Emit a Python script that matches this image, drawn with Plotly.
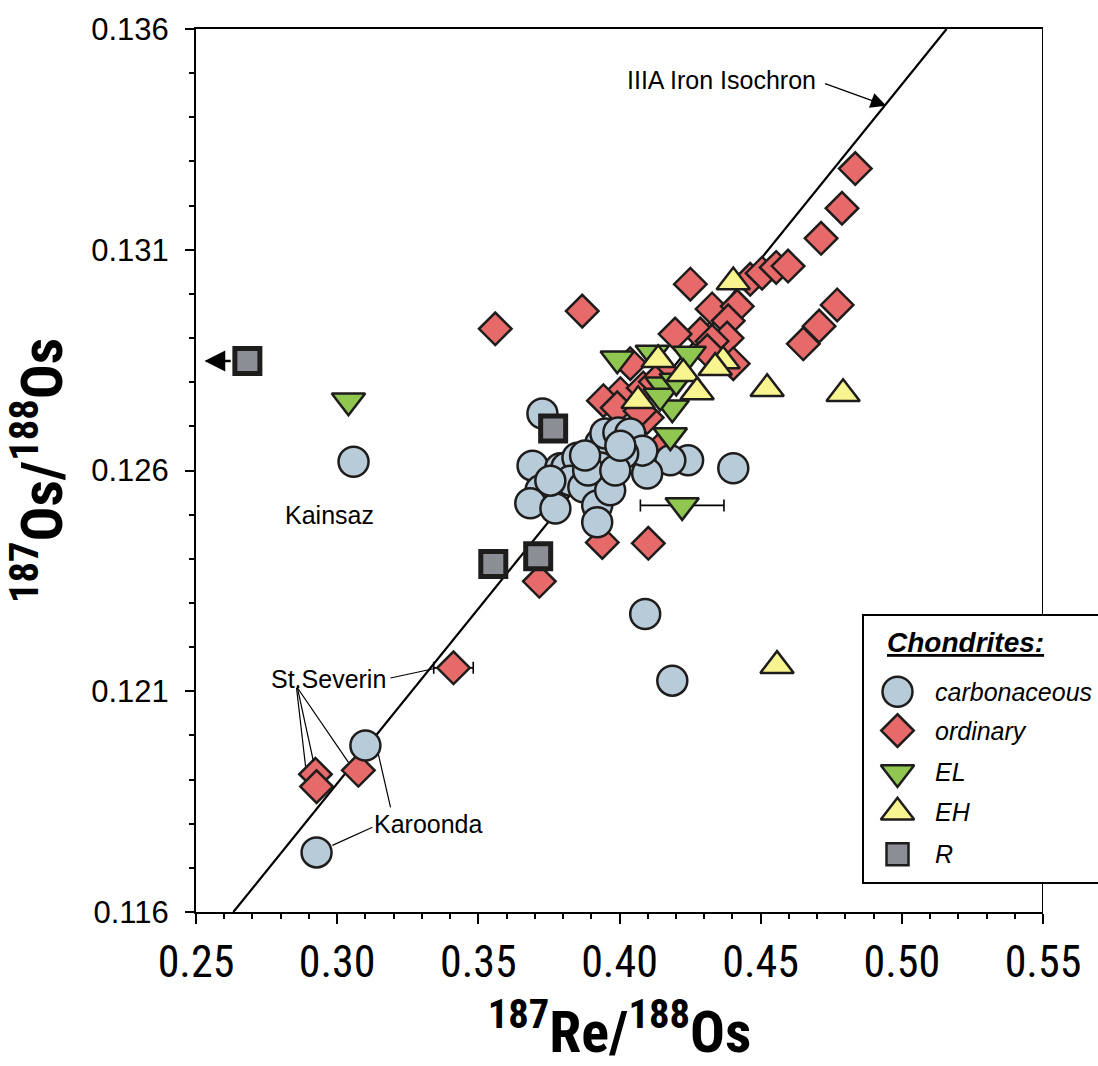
import plotly.graph_objects as go

# ---------------------------------------------------------------- data
X_RANGE = [0.25, 0.55]
Y_RANGE = [0.116, 0.136]
x_ticks = [0.25, 0.30, 0.35, 0.40, 0.45, 0.50, 0.55]
x_ticklabels = ["0.25", "0.30", "0.35", "0.40", "0.45", "0.50", "0.55"]
y_ticks = [0.116, 0.121, 0.126, 0.131, 0.136]
y_ticklabels = ["0.116", "0.121", "0.126", "0.131", "0.136"]

# carbonaceous chondrites (187Re/188Os, 187Os/188Os)
carb_re = [0.3058, 0.3100, 0.2927, 0.4091, 0.4187, 0.4403, 0.4243, 0.4180, 0.4098,
           0.3727, 0.3692, 0.3790, 0.3812, 0.3851, 0.3932, 0.3950, 0.3996, 0.4038,
           0.4081, 0.4013, 0.3932, 0.3826, 0.3872, 0.3720, 0.3684, 0.3773, 0.3921,
           0.3921, 0.3967, 0.3889, 0.3985, 0.3755, 0.4003, 0.3878]
carb_os = [0.12620, 0.11977, 0.11735, 0.12275, 0.12124, 0.12605, 0.12623, 0.12623, 0.12593,
           0.12729, 0.12611, 0.12605, 0.12607, 0.12629, 0.12661, 0.12684, 0.12686, 0.12684,
           0.12645, 0.12638, 0.12607, 0.12577, 0.12562, 0.12555, 0.12526, 0.12514, 0.12521,
           0.12483, 0.12555, 0.12600, 0.12600, 0.12577, 0.12656, 0.12634]

# ordinary chondrites
ord_re = [0.3560, 0.3868, 0.4251, 0.4463, 0.4505, 0.4555, 0.4597, 0.4714, 0.4788, 0.4835,
          0.4771, 0.4707, 0.4651, 0.4328, 0.4417, 0.4385, 0.4286, 0.4197, 0.4381, 0.4328,
          0.4311, 0.4403, 0.4038, 0.4003, 0.4084, 0.3943, 0.3992, 0.4098, 0.4144, 0.4073,
          0.3939, 0.4102, 0.3716, 0.3412, 0.3075, 0.2923, 0.2927, 0.4162, 0.4127]
ord_os = [0.12921, 0.12961, 0.13022, 0.13033, 0.13047, 0.13060, 0.13063, 0.13126, 0.13194, 0.13284,
          0.12975, 0.12927, 0.12887, 0.12966, 0.12972, 0.12939, 0.12909, 0.12909, 0.12900, 0.12893,
          0.12871, 0.12842, 0.12842, 0.12774, 0.12787, 0.12758, 0.12742, 0.12720, 0.12650, 0.12735,
          0.12437, 0.12435, 0.12349, 0.12153, 0.11921, 0.11912, 0.11884, 0.12819, 0.12801]
ord_re_err = [0] * 33 + [0.0070] + [0] * 5

# enstatite chondrites, EL group
el_re = [0.3040, 0.3992, 0.4116, 0.4247, 0.4151, 0.4187, 0.4180, 0.4222, 0.4144, 0.4201]
el_os = [0.12758, 0.12853, 0.12866, 0.12864, 0.12794, 0.12742, 0.12679, 0.12521, 0.12769, 0.12803]
el_re_err = [0, 0, 0, 0, 0, 0, 0, 0.0148, 0, 0]

# enstatite chondrites, EH group
eh_re = [0.4403, 0.4137, 0.4226, 0.4367, 0.4066, 0.4275, 0.4523, 0.4792, 0.4558, 0.4339]
eh_os = [0.13027, 0.12851, 0.12819, 0.12848, 0.12758, 0.12778, 0.12785, 0.12774, 0.12158, 0.12833]

# Rumuruti chondrites (EET 96026 lies off scale at 187Re/188Os = 0.136)
r_re = [0.136, 0.3765, 0.3553, 0.3712]
r_os = [0.12848, 0.12695, 0.12388, 0.12406]

# IIIA iron isochron: 187Os/188Os = initial + slope * 187Re/188Os
ISO_INITIAL = 0.09516
ISO_SLOPE = 0.07917

# ---------------------------------------------------------------- styles
EDGE = "#1f1c1c"
STYLES = {
    "carbonaceous": dict(symbol="circle", size=30, color="#b8cbd9", lw=2.5),
    "ordinary": dict(symbol="diamond", size=25, color="#e66a6a", lw=2.5),
    "EL": dict(symbol="triangle-down", size=29, color="#8fc751", lw=2.5),
    "EH": dict(symbol="triangle-up", size=29, color="#f8f48f", lw=2.5),
    "R": dict(symbol="square", size=25, color="#8b8e95", lw=5),
}
SERIES = [
    ("ordinary", ord_re, ord_os, ord_re_err),
    ("carbonaceous", carb_re, carb_os, None),
    ("EL", el_re, el_os, el_re_err),
    ("EH", eh_re, eh_os, None),
    ("R", r_re, r_os, None),
]

SANS = "Liberation Sans, Arial, sans-serif"
NARROW = "Liberation Sans Narrow, Arial Narrow, Roboto Condensed, sans-serif"

W, H = 1098, 1066
PLOT_L, PLOT_R, PLOT_T, PLOT_B = 196, 1043, 27, 913


def paper_x(px):
    return (px - PLOT_L) / (PLOT_R - PLOT_L)


def paper_y(py):
    return (PLOT_B - py) / (PLOT_B - PLOT_T)


# points left of the axis minimum are drawn at the edge with an arrow
OFFSCALE_X = X_RANGE[0] + 0.0182

fig = go.Figure()

# isochron line over the full vertical extent of the frame
iso_x = [(Y_RANGE[0] - ISO_INITIAL) / ISO_SLOPE, (Y_RANGE[1] - ISO_INITIAL) / ISO_SLOPE]
iso_y = [ISO_INITIAL + ISO_SLOPE * v for v in iso_x]
fig.add_trace(go.Scatter(x=iso_x, y=iso_y, mode="lines",
                         line=dict(color="black", width=2.2),
                         showlegend=False, hoverinfo="skip", cliponaxis=True))

for name, xs, ys, errs in SERIES:
    st = STYLES[name]
    xs_plot = [max(v, OFFSCALE_X) for v in xs]
    if errs is not None:
        idx = [i for i, e in enumerate(errs) if e]
        fig.add_trace(go.Scatter(
            x=[xs_plot[i] for i in idx], y=[ys[i] for i in idx], mode="markers",
            marker=dict(size=1, opacity=0),
            error_x=dict(type="data", array=[errs[i] for i in idx], visible=True,
                         color="black", thickness=1.6, width=6),
            showlegend=False, hoverinfo="skip"))
    fig.add_trace(go.Scatter(
        x=xs_plot, y=ys, mode="markers", name=name,
        marker=dict(symbol=st["symbol"], size=st["size"], color=st["color"],
                    line=dict(color=EDGE, width=st["lw"])),
        showlegend=False, cliponaxis=False))

# ---------------------------------------------------------------- legend box
LEG_L, LEG_T, LEG_B = 863, 615, 884
legend_rows = [("carbonaceous", 692), ("ordinary", 731), ("EL", 773), ("EH", 813), ("R", 855)]
SYM_L, SYM_R = 880, 915
for name, py in legend_rows:
    st = STYLES[name]
    fig.add_trace(go.Scatter(
        x=[0.5], y=[(LEG_B - py) / (LEG_B - LEG_T)], mode="markers",
        xaxis="x2", yaxis="y2",
        marker=dict(symbol=st["symbol"], size=st["size"] if name != "R" else 22,
                    color=st["color"],
                    line=dict(color=EDGE, width=st["lw"] if name != "R" else 2.5)),
        showlegend=False, hoverinfo="skip", cliponaxis=False))

shapes = [
    dict(type="rect", xref="paper", yref="paper",
         x0=paper_x(LEG_L), x1=paper_x(W + 20), y0=paper_y(LEG_B), y1=paper_y(LEG_T),
         line=dict(color="black", width=2), fillcolor="white", layer="below"),
    # right side of the frame, interrupted by the legend box
    dict(type="line", xref="x", yref="paper", x0=X_RANGE[1], x1=X_RANGE[1],
         y0=1, y1=paper_y(LEG_T), line=dict(color="black", width=2)),
    dict(type="line", xref="x", yref="paper", x0=X_RANGE[1], x1=X_RANGE[1],
         y0=paper_y(LEG_B), y1=0, line=dict(color="black", width=2)),
]

# leader lines for the labelled meteorites
leaders = [
    ((0.2626, 0.13957), (0.2676, 0.13882)),   # EET 96026
    ((0.3189, 0.12130), (0.3341, 0.12151)),   # St. Severin (upper)
    ((0.2856, 0.12108), (0.2888, 0.11930)),
    ((0.2859, 0.12108), (0.2916, 0.11941)),
    ((0.2859, 0.12108), (0.3040, 0.11939)),
    ((0.3125, 0.11792), (0.2983, 0.11751)),   # Karoonda
    ((0.3189, 0.11837), (0.3146, 0.11957)),
]
for (xa, ya), (xb, yb) in leaders:
    shapes.append(dict(type="line", xref="x", yref="y", x0=xa, y0=ya, x1=xb, y1=yb,
                       line=dict(color="black", width=1.2)))

LABEL_FONT = dict(family=SANS, size=25, color="black")
annotations = [
    dict(x=0.4704, y=0.13485, text="IIIA Iron Isochron", xanchor="right", yanchor="middle"),
    dict(x=0.2824, y=0.13984, text="EET 96026", xanchor="center", yanchor="middle"),
    dict(x=0.2856, y=0.13923, text="x=0.136", xanchor="center", yanchor="middle"),
    dict(x=0.2970, y=0.12128, text="St.Severin", xanchor="center", yanchor="middle"),
    dict(x=0.3323, y=0.11799, text="Karoonda", xanchor="center", yanchor="middle"),
    dict(x=0.2972, y=0.12499, text="Kainsaz", xanchor="center", yanchor="middle"),
]
for a in annotations:
    a.update(xref="x", yref="y", showarrow=False, font=LABEL_FONT)

# arrow pointing at the isochron
iso_head_x = 0.4945
annotations.append(dict(
    x=iso_head_x, y=ISO_INITIAL + ISO_SLOPE * iso_head_x - 0.00005,
    ax=0.4721, ay=0.13478, xref="x", yref="y", axref="x", ayref="y",
    text=" ", showarrow=True, arrowhead=2, arrowsize=2.4, arrowwidth=1.3,
    arrowcolor="black", standoff=0, font=dict(size=2)))
# off-scale arrow for EET 96026
annotations.append(dict(
    x=X_RANGE[0] + 0.0030, y=r_os[0], ax=OFFSCALE_X - 0.0052, ay=r_os[0],
    xref="x", yref="y", axref="x", ayref="y",
    text=" ", showarrow=True, arrowhead=2, arrowsize=1.6, arrowwidth=2.6,
    arrowcolor="black", standoff=0, font=dict(size=2)))

# legend texts
annotations.append(dict(
    xref="paper", yref="paper", x=paper_x(885), y=paper_y(643),
    text="<b><i><u>Chondrites:</u></i></b>", showarrow=False,
    xanchor="left", yanchor="middle", font=dict(family=SANS, size=28, color="black")))
legend_labels = {"carbonaceous": "carbonaceous", "ordinary": "ordinary",
                 "EL": "EL", "EH": "EH", "R": "R"}
for name, py in legend_rows:
    annotations.append(dict(
        xref="paper", yref="paper", x=paper_x(933), y=paper_y(py),
        text="<i>" + legend_labels[name] + "</i>", showarrow=False,
        xanchor="left", yanchor="middle", font=dict(family=SANS, size=25, color="black")))

TITLE_FONT = dict(family=NARROW, size=58, color="black", weight="bold")
SUP = '<sup>{}</sup>'

fig.update_layout(
    width=W, height=H, autosize=False,
    margin=dict(l=PLOT_L, r=W - PLOT_R, t=PLOT_T, b=H - PLOT_B, pad=0),
    paper_bgcolor="white", plot_bgcolor="rgba(0,0,0,0)",
    showlegend=False,
    xaxis=dict(
        range=X_RANGE, tickvals=x_ticks, ticktext=x_ticklabels,
        ticks="outside", ticklen=10, tickwidth=2, tickcolor="black",
        minor=dict(dtick=0.01, tick0=0.25, ticks="outside", ticklen=5, tickwidth=1.5,
                   tickcolor="black"),
        showline=True, linewidth=2, linecolor="black", mirror=True,
        showgrid=False, zeroline=False,
        tickfont=dict(family=NARROW, size=44, color="black"),
        title=dict(text=SUP.format(187) + "Re/" + SUP.format(188) + "Os",
                   font=TITLE_FONT, standoff=26),
    ),
    yaxis=dict(
        range=Y_RANGE, tickvals=y_ticks, ticktext=y_ticklabels,
        ticks="outside", ticklen=9, tickwidth=2, tickcolor="black",
        minor=dict(dtick=0.001, tick0=0.116, ticks="outside", ticklen=5, tickwidth=1.5,
                   tickcolor="black"),
        showline=True, linewidth=2, linecolor="black", mirror=False,
        showgrid=False, zeroline=False,
        tickfont=dict(family=SANS, size=31, color="black"),
        ticklabelstandoff=10,
        title=dict(text=SUP.format(187) + "Os/" + SUP.format(188) + "Os",
                   font=TITLE_FONT, standoff=16),
    ),
    xaxis2=dict(domain=[paper_x(SYM_L), paper_x(SYM_R)], range=[0, 1], visible=False,
                anchor="y2", fixedrange=True),
    yaxis2=dict(domain=[paper_y(LEG_B), paper_y(LEG_T)], range=[0, 1], visible=False,
                anchor="x2", fixedrange=True),
    shapes=shapes,
    annotations=annotations,
)

fig.write_html("out.html")
